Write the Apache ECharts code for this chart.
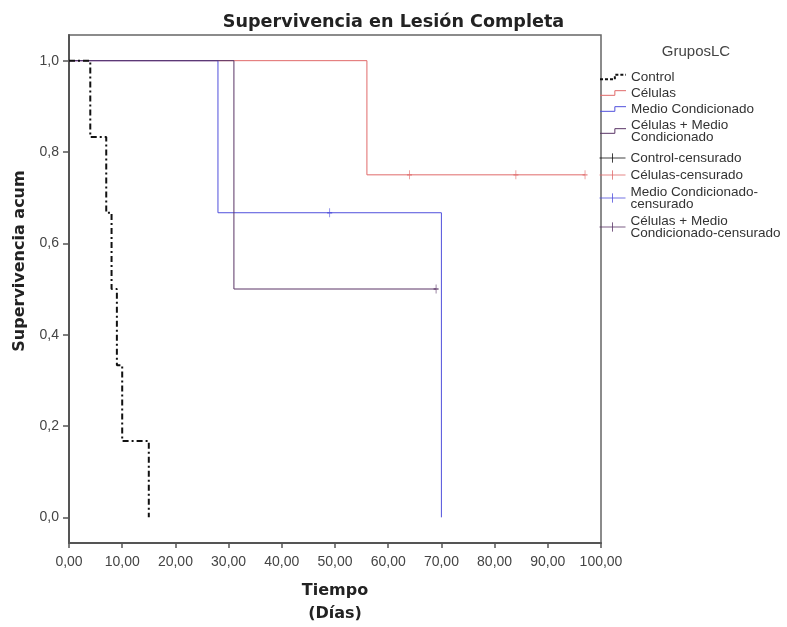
<!DOCTYPE html>
<html>
<head>
<meta charset="utf-8">
<script src="https://cdn.jsdelivr.net/npm/echarts@6/dist/echarts.min.js"></script>
<style>html,body{margin:0;padding:0;background:#fff}#c{width:787px;height:627px}</style>
</head>
<body>
<div id="c"></div>
<script>
// ---- data ----
var groupNames = ['Control', 'Células', 'Medio Condicionado', 'Células + Medio\nCondicionado'];
var censNames = ['Control-censurado', 'Células-censurado', 'Medio Condicionado-\ncensurado', 'Células + Medio\nCondicionado-censurado'];
var controlTimes = [0, 4, 7, 8, 9, 10, 15];
var controlSurv = [1.0, 0.833, 0.667, 0.5, 0.333, 0.167, 0.0];
var celulasTimes = [0, 56, 97];
var celulasSurv = [1.0, 0.75, 0.75];
var medioTimes = [0, 28, 70];
var medioSurv = [1.0, 0.667, 0.0];
var celMedioTimes = [0, 31, 69];
var celMedioSurv = [1.0, 0.5, 0.5];
var controlCensTimes = [];
var controlCensSurv = [];
var celulasCensTimes = [64, 84, 97];
var celulasCensSurv = [0.75, 0.75, 0.75];
var medioCensTimes = [49];
var medioCensSurv = [0.667];
var celMedioCensTimes = [69];
var celMedioCensSurv = [0.5];
var yTicks = [0, 0.2, 0.4, 0.6, 0.8, 1.0];

function zip(a, b) { return a.map(function (v, i) { return [v, b[i]]; }); }
var colors = ['#111111', '#e06a6a', '#5050dc', '#5a3566'];
var lineData = [zip(controlTimes, controlSurv), zip(celulasTimes, celulasSurv), zip(medioTimes, medioSurv), zip(celMedioTimes, celMedioSurv)];
var censData = [zip(controlCensTimes, controlCensSurv), zip(celulasCensTimes, celulasCensSurv), zip(medioCensTimes, medioCensSurv), zip(celMedioCensTimes, celMedioCensSurv)];

var series = [];
lineData.forEach(function (d, i) {
  series.push({
    name: groupNames[i], type: 'line', step: 'end', data: d, showSymbol: false,
    lineStyle: i === 0 ? { color: colors[i], width: 2, type: [6, 3, 2, 3] } : { color: colors[i], width: 1 },
    itemStyle: { color: colors[i] }, z: i === 0 ? 5 : 3, silent: true
  });
});
var plus = 'path://M0,5 L10,5 M5,0 L5,10';
censData.forEach(function (d, i) {
  series.push({
    name: censNames[i], type: 'scatter', data: d, symbol: plus, symbolSize: [5, 9],
    itemStyle: { color: 'rgba(0,0,0,0)', borderColor: colors[i], borderWidth: 1 }, z: 6
  });
});

var FONT = 'Liberation Sans, Arial, sans-serif';
var BOLDFONT = 'DejaVu Sans, sans-serif';
var stepIcon = 'path://M0,5 L16,5 L16,0 L28,0';
var censIcon = 'path://M0,5 L28,5 M14,0 L14,10';
var legendText = { fontSize: 13.5, color: '#333', fontFamily: FONT, lineHeight: 12 };

var chart = echarts.init(document.getElementById('c'), null, { renderer: 'canvas' });
chart.setOption({
  animation: false,
  backgroundColor: '#fff',
  title: {
    text: 'Supervivencia en Lesión Completa', left: 'center', top: 8,
    textStyle: { fontSize: 17.6, fontWeight: 'bold', color: '#222', fontFamily: BOLDFONT }
  },
  grid: { left: 69, right: 186, top: 35, bottom: 84, outerBoundsMode: 'none', containLabel: false, show: true, borderColor: '#666', borderWidth: 1.5, backgroundColor: 'transparent' },
  xAxis: {
    type: 'value', min: 0, max: 100, interval: 10,
    name: 'Tiempo\n(Días)', nameLocation: 'middle', nameGap: 36,
    nameTextStyle: { fontSize: 16, fontWeight: 'bold', color: '#222', lineHeight: 23, fontFamily: BOLDFONT },
    axisLine: { onZero: false, lineStyle: { color: '#555', width: 2 } },
    axisTick: { show: true, length: 5, lineStyle: { color: '#555', width: 1.5 } },
    axisLabel: { fontSize: 14, color: '#444', margin: 12, fontFamily: FONT, formatter: function (v) { return v.toFixed(2).replace('.', ','); } },
    splitLine: { show: false }
  },
  yAxis: {
    type: 'value', min: -0.0562, max: 1.0562,
    axisLine: { show: true, onZero: false, lineStyle: { color: '#555', width: 2 } },
    axisTick: { show: true, length: 6, customValues: yTicks, lineStyle: { color: '#555', width: 1.5 } },
    axisLabel: { fontSize: 14, color: '#444', margin: 10, fontFamily: FONT, customValues: yTicks, formatter: function (v) { return v.toFixed(1).replace('.', ','); } },
    splitLine: { show: false }
  },
  legend: [
    {
      orient: 'vertical', left: 599, top: 70, itemWidth: 26, itemHeight: 5, itemGap: 2, padding: 0,
      textStyle: legendText, selectedMode: false,
      data: groupNames.map(function (n, i) {
        return { name: n, icon: stepIcon, itemStyle: { color: 'rgba(0,0,0,0)', borderColor: colors[i], borderWidth: i === 0 ? 2 : 1, borderType: i === 0 ? [3, 2] : 'solid' } };
      })
    },
    {
      orient: 'vertical', left: 599, top: 151, itemWidth: 26, itemHeight: 10, itemGap: 3, padding: 0,
      textStyle: legendText, selectedMode: false,
      data: censNames.map(function (n, i) {
        return { name: n, icon: censIcon, itemStyle: { color: 'rgba(0,0,0,0)', borderColor: colors[i], borderWidth: 1 } };
      })
    }
  ],
  graphic: [
    { type: 'text', x: 696, y: 52, style: { text: 'GruposLC', fontSize: 15, fill: '#444', align: 'center', verticalAlign: 'middle', fontFamily: FONT } },
    { type: 'text', x: 20, y: 261, rotation: Math.PI / 2, style: { text: 'Supervivencia acum', fontSize: 16, fontWeight: 'bold', fill: '#222', align: 'center', verticalAlign: 'middle', fontFamily: BOLDFONT } }
  ],
  series: series
});
</script>
</body>
</html>
